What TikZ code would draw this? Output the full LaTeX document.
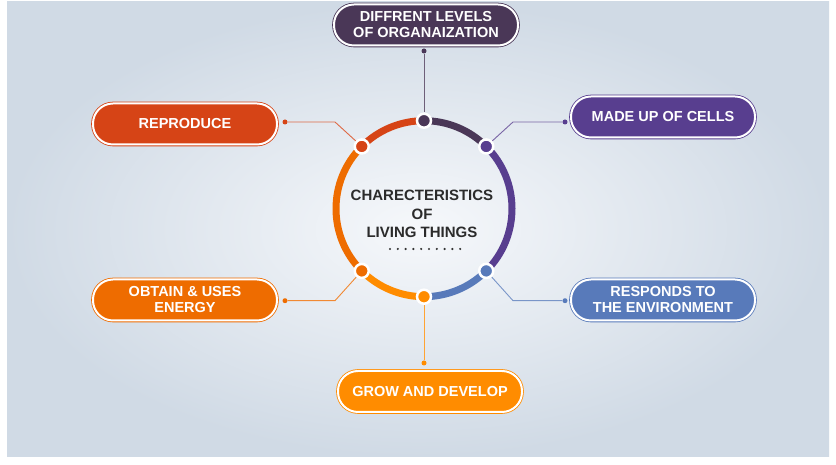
\documentclass[tikz,border=0pt]{standalone}
\usepackage{fontspec}
\setmainfont{Liberation Sans}
\usetikzlibrary{calc}
\begin{document}
\begin{tikzpicture}[x=1pt,y=1pt,
  pill/.style={draw=#1, fill=#1, double=white, double distance=2pt, line width=0.8pt,
    rounded corners=20pt, minimum width=184pt, minimum height=41pt, inner sep=0pt,
    align=center, text=white, font=\bfseries\fontsize{14.5}{16}\selectfont},
  ring/.style={line width=7pt, draw=#1},
  rdot/.style={circle, fill=#1, draw=white, line width=2.5pt, minimum size=14pt, inner sep=0pt},
  sdot/.style={circle, fill=#1, inner sep=0pt, minimum size=5pt},
  conn/.style={draw=#1!80!white, line width=0.9pt},
  cdot/.style={circle, fill=black!80, inner sep=0pt, minimum size=2.4pt}]
\useasboundingbox (0,0) rectangle (836,465);
\fill[white] (0,0) rectangle (836,465);
\shade[inner color={rgb,255:red,246;green,248;blue,251}, outer color={rgb,255:red,208;green,218;blue,229}] (7,8) rectangle (829,463);
\definecolor{cPlum}{RGB}{74,55,87}
\definecolor{cPurple}{RGB}{88,62,143}
\definecolor{cBlue}{RGB}{88,122,186}
\definecolor{cAmber}{RGB}{255,140,0}
\definecolor{cOrange}{RGB}{238,108,0}
\definecolor{cRed}{RGB}{214,68,22}
\coordinate (c) at (424,256.3);
% ring
\draw[ring=cPlum] (c) ++(90:88) arc[start angle=90, end angle=45, radius=88];
\draw[ring=cPurple] (c) ++(45:88) arc[start angle=45, end angle=-45, radius=88];
\draw[ring=cBlue] (c) ++(-45:88) arc[start angle=-45, end angle=-90, radius=88];
\draw[ring=cAmber] (c) ++(-90:88) arc[start angle=-90, end angle=-135, radius=88];
\draw[ring=cOrange] (c) ++(-135:88) arc[start angle=-135, end angle=-225, radius=88];
\draw[ring=cRed] (c) ++(135:88) arc[start angle=135, end angle=90, radius=88];
% boxes
\node[pill=cPlum] (bT) at (426,440) {DIFFRENT LEVELS\\OF ORGANAIZATION};
\node[pill=cRed] (bR) at (185,341) {REPRODUCE};
\node[pill=cPurple] (bM) at (663,348) {MADE UP OF CELLS};
\node[pill=cOrange] (bO) at (185,165) {OBTAIN \& USES\\ENERGY};
\node[pill=cBlue] (bE) at (663,165) {RESPONDS TO\\THE ENVIRONMENT};
\node[pill=cAmber] (bG) at (430,73.5) {GROW AND DEVELOP};
% small dots at boxes
\node[sdot=cPlum] (sT) at (424,414) {};
\node[sdot=cRed] (sR) at (285,343) {};
\node[sdot=cPurple] (sM) at (565,343) {};
\node[sdot=cOrange] (sO) at (285,164.3) {};
\node[sdot=cBlue] (sE) at (565,164.3) {};
\node[sdot=cAmber] (sG) at (424,102) {};
\coordinate (kR) at (335,343);
\coordinate (kM) at (513,343);
\coordinate (kO) at (335,164.3);
\coordinate (kE) at (513,164.3);
% ring dots
\node[rdot=cPlum] (dT) at ($(c)+(90:88)$) {};
\node[rdot=cPurple] (dUR) at ($(c)+(45:88)$) {};
\node[rdot=cBlue] (dLR) at ($(c)+(-45:88)$) {};
\node[rdot=cAmber] (dB) at ($(c)+(-90:88)$) {};
\node[rdot=cOrange] (dLL) at ($(c)+(-135:88)$) {};
\node[rdot=cRed] (dUL) at ($(c)+(135:88)$) {};
% connectors
\draw[conn=cPlum] (sT) -- (dT);
\draw[conn=cRed] (sR) -- (kR) -- (dUL);
\draw[conn=cPurple] (sM) -- (kM) -- (dUR);
\draw[conn=cOrange] (sO) -- (kO) -- (dLL);
\draw[conn=cBlue] (sE) -- (kE) -- (dLR);
\draw[conn=cAmber] (sG) -- (dB);
% center text
\node[align=center, text={rgb,255:red,43;green,43;blue,43}, font=\bfseries\fontsize{15}{18.5}\selectfont] (title) at (422,251) {CHARECTERISTICS\\OF\\LIVING THINGS};
\foreach \i in {0,...,9} {
  \node[cdot] (cd\i) at ({390+\i*7.8},216) {};
}
\end{tikzpicture}
\end{document}
